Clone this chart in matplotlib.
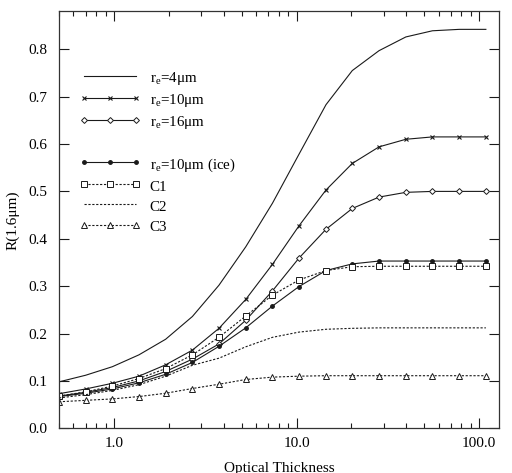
import matplotlib
matplotlib.use("Agg")
import matplotlib.pyplot as plt
from matplotlib.lines import Line2D
from matplotlib.ticker import FixedLocator, LogLocator, NullFormatter, FixedFormatter

plt.rcParams['font.family'] = ['Liberation Serif', 'DejaVu Serif']
plt.rcParams['mathtext.fontset'] = 'custom'
plt.rcParams['mathtext.rm'] = 'Liberation Serif'
plt.rcParams['mathtext.it'] = 'Liberation Serif:italic'

# ---- data ----
tau = [0.5, 0.7, 0.98, 1.37, 1.92, 2.69, 3.76, 5.27, 7.38, 10.3, 14.5,
       20.2, 28.3, 39.7, 55.5, 77.8, 108.9]

r4 = [0.098, 0.112, 0.130, 0.155, 0.188, 0.236, 0.302, 0.383, 0.475, 0.578,
      0.683, 0.755, 0.797, 0.826, 0.839, 0.842, 0.842]
r10 = [0.073, 0.083, 0.095, 0.110, 0.134, 0.165, 0.211, 0.272, 0.346, 0.427,
       0.503, 0.559, 0.594, 0.610, 0.615, 0.615, 0.615]
r16 = [0.068, 0.076, 0.086, 0.100, 0.120, 0.146, 0.178, 0.228, 0.290, 0.359,
       0.420, 0.464, 0.488, 0.498, 0.500, 0.500, 0.500]
r10ice = [0.067, 0.074, 0.083, 0.096, 0.114, 0.139, 0.173, 0.212, 0.258, 0.299,
          0.333, 0.347, 0.353, 0.353, 0.353, 0.353, 0.353]
c1 = [0.068, 0.077, 0.089, 0.105, 0.126, 0.155, 0.192, 0.237, 0.281, 0.313,
      0.333, 0.341, 0.342, 0.342, 0.342, 0.342, 0.342]
c2 = [0.064, 0.071, 0.080, 0.092, 0.110, 0.133, 0.148, 0.172, 0.192, 0.203,
      0.209, 0.211, 0.212, 0.212, 0.212, 0.212, 0.212]
c3 = [0.056, 0.059, 0.062, 0.067, 0.074, 0.084, 0.093, 0.103, 0.108, 0.110,
      0.111, 0.111, 0.111, 0.111, 0.111, 0.111, 0.111]

labels = ['r$_{\\rm e}$=4\u03bcm', 'r$_{\\rm e}$=10\u03bcm', 'r$_{\\rm e}$=16\u03bcm',
          'r$_{\\rm e}$=10\u03bcm (ice)', 'C1', 'C2', 'C3']
yticks = [0.0, 0.1, 0.2, 0.3, 0.4, 0.5, 0.6, 0.7, 0.8]
xticks = [1.0, 10.0, 100.0]
xticklabels = ['1.0', '10.0', '100.0']

fig = plt.figure(figsize=(5.12, 4.73), dpi=100)
ax = fig.add_axes([0.1152, 0.0945, 0.8588, 0.8815])

col = '#1a1a1a'
lw = 0.8
dot = (0, (2, 1.5))

h4, = ax.plot(tau, r4, color=col, lw=lw, label=labels[0])
h10, = ax.plot(tau, r10, color=col, lw=lw, marker='x', ms=3.5, mew=0.8, label=labels[1])
h16, = ax.plot(tau, r16, color=col, lw=lw, marker='D', ms=3, mfc='white', mew=0.7, label=labels[2])
hice, = ax.plot(tau, r10ice, color=col, lw=lw, marker='o', ms=2.5, mfc=col, label=labels[3])
hc1, = ax.plot(tau, c1, color=col, lw=lw, ls=dot, marker='s', ms=4.5, mfc='white', mew=0.7, label=labels[4])
hc2, = ax.plot(tau, c2, color=col, lw=lw, ls=dot, label=labels[5])
hc3, = ax.plot(tau, c3, color=col, lw=lw, ls=dot, marker='^', ms=4.5, mfc='white', mew=0.7, label=labels[6])

ax.set_xscale('log')
ax.set_xlim(0.5, 128)
ax.set_ylim(0, 0.88)

ax.xaxis.set_major_locator(FixedLocator(xticks))
ax.xaxis.set_major_formatter(FixedFormatter(xticklabels))
ax.xaxis.set_minor_locator(LogLocator(base=10, subs=[2, 3, 4, 5, 6, 7, 8, 9]))
ax.xaxis.set_minor_formatter(NullFormatter())
ax.set_yticks(yticks)
ax.set_yticklabels(['%.1f' % v for v in yticks])

ax.tick_params(which='both', direction='in', top=True, right=True, labelsize=11, color=col)
ax.tick_params(which='major', length=7, width=0.8)
ax.tick_params(axis='y', which='major', pad=8)
ax.tick_params(axis='x', which='major', pad=6)
ax.tick_params(which='minor', length=3.6, width=0.8)
for s in ax.spines.values():
    s.set_linewidth(0.9)
    s.set_color('#333333')

ax.set_xlabel('Optical Thickness', fontsize=11, labelpad=9)
ax.set_ylabel('R(1.6\u03bcm)', fontsize=11, labelpad=7)

blank = Line2D([], [], linestyle='none')
handles = [h4, h10, h16, blank, hice, hc1, hc2, hc3]
leg_labels = [labels[0], labels[1], labels[2], ' ', labels[3], labels[4], labels[5], labels[6]]
ax.legend(handles, leg_labels, loc='upper left', bbox_to_anchor=(0.046, 0.861),
          frameon=False, fontsize=10.8, numpoints=3, handlelength=4.1,
          handleheight=1.17, handletextpad=0.6, labelspacing=0.30,
          borderaxespad=0, borderpad=0)

fig.savefig('out.png', dpi=100)
